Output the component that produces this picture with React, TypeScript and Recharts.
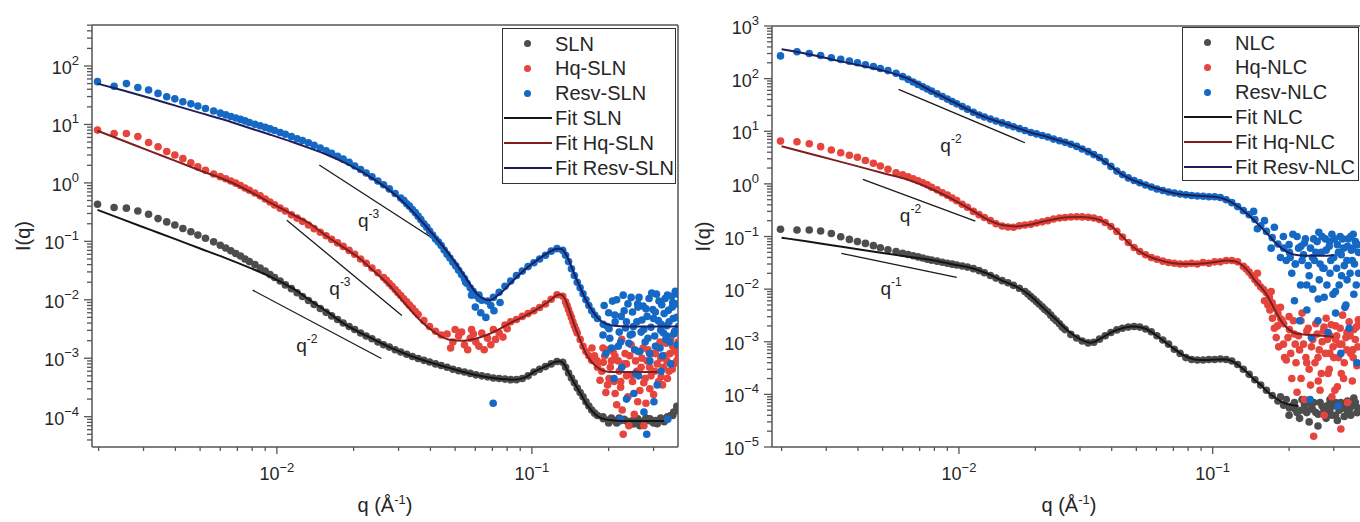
import React from "react";
import { ComposedChart, Scatter, Line, XAxis, YAxis, ReferenceLine, ReferenceDot } from "recharts";

const FONT = '"Liberation Sans", Arial, Helvetica, sans-serif';
const AXIS = "#555";
const INK = "#262626";
const GRAY = "#4d4d4d";
const RED = "#e5453d";
const BLUE = "#1569c4";
const FIT_BLACK = "#151515";
const FIT_RED = "#7d1f1f";
const FIT_NAVY = "#1d1f5c";

// q grid of the measured points (Å^-1), shared by both panels
const qData = [
  0.00198, 0.0023, 0.00257, 0.00285, 0.00314, 0.00342, 0.0037, 0.00398, 0.00428, 0.0046,
  0.0049, 0.00525, 0.00565, 0.006, 0.0063, 0.0066, 0.0069, 0.0072, 0.0075, 0.0078,
  0.0082, 0.0086, 0.009, 0.0094, 0.0098, 0.0103, 0.0108, 0.0114, 0.012, 0.0126,
  0.0133, 0.014, 0.0148, 0.0156, 0.0164, 0.0173, 0.0182, 0.0192, 0.0202, 0.0213,
  0.0224, 0.0236, 0.0249, 0.0262, 0.0276, 0.0291, 0.0306, 0.0323, 0.034, 0.0358,
  0.0377, 0.0397, 0.0419, 0.0441, 0.0465, 0.049, 0.0516, 0.0544, 0.0573, 0.0603,
  0.0636, 0.067, 0.0706, 0.0744, 0.0784, 0.0826, 0.087, 0.0917, 0.0966, 0.1018,
  0.1072, 0.113, 0.119, 0.1254, 0.1321, 0.1392, 0.1467, 0.1546, 0.1629, 0.1716,
  0.1808, 0.1905, 0.2007, 0.2115, 0.2228, 0.2348, 0.2474, 0.2606, 0.2746, 0.2893,
  0.3048, 0.3212, 0.3384, 0.3565, 0.3757,
];

// ---- left panel: SLN ----
const slnI = [
  0.43, 0.38, 0.37, 0.33, 0.29, 0.245, 0.215, 0.19, 0.166, 0.146,
  0.128, 0.113, 0.098, 0.086, 0.077, 0.069, 0.062, 0.056, 0.05, 0.045,
  0.04, 0.035, 0.031, 0.027, 0.024, 0.021, 0.018, 0.0155, 0.0132, 0.0114,
  0.0097, 0.0083, 0.0071, 0.0061, 0.0053, 0.0046, 0.004, 0.0035, 0.0031, 0.0027,
  0.0024, 0.00215, 0.0019, 0.0017, 0.00155, 0.0014, 0.00128, 0.00117, 0.00107, 0.00099,
  0.00092, 0.00086, 0.0008, 0.00075, 0.0007, 0.00065, 0.00061, 0.00058, 0.00055, 0.00052,
  0.0005, 0.00048, 0.00046, 0.00045, 0.00044, 0.00043, 0.00043, 0.00045, 0.0005, 0.00058,
  0.00065, 0.00072, 0.0008, 0.00088, 0.00085, 0.00056, 0.00038, 0.00026, 0.00018, 0.00013,
  0.000105, 0.000092, 0.000088, 0.000086, 0.000085, 0.000084, 0.000085, 0.000085, 0.000084, 0.000085,
  0.000086, 0.000088, 0.000092, 0.000105, 0.00013,
];
const hqSlnI = [
  8.0, 7.0, 7.0, 6.2, 4.9, 4.15, 3.45, 3.0, 2.6, 2.2,
  1.88, 1.64, 1.42, 1.28, 1.18, 1.08, 0.99, 0.9, 0.82, 0.75,
  0.67, 0.6, 0.53, 0.47, 0.42, 0.37, 0.33, 0.285, 0.25, 0.22,
  0.19, 0.165, 0.143, 0.125, 0.108, 0.094, 0.082, 0.07, 0.06, 0.05,
  0.042, 0.035, 0.029, 0.024, 0.019, 0.015, 0.0118, 0.0092, 0.0072, 0.0056,
  0.0044, 0.0035, 0.0029, 0.0025, 0.0026, 0.0019, 0.0024, 0.0017, 0.0022, 0.0019,
  0.0027, 0.0022, 0.0031, 0.0027, 0.0037, 0.0042, 0.0046, 0.0052, 0.0058, 0.0065,
  0.0074, 0.0085, 0.0102, 0.0122, 0.0115, 0.0068, 0.0036, 0.0021, 0.0013, 0.00092,
  0.0007, 0.00085, 0.00045, 0.0011, 0.00032, 0.0008, 0.00052, 0.0013, 0.00038, 0.0007,
  0.0012, 0.00048, 0.0009, 0.0016, 0.0011,
];
const resvSlnI = [
  54, 45, 50, 43, 38.8, 34, 29.8, 27.4, 24.5, 22.5,
  20.6, 18.8, 17, 15.6, 14.6, 13.7, 12.9, 12.2, 11.5, 10.8,
  10.1, 9.5, 8.9, 8.4, 7.9, 7.3, 6.8, 6.2, 5.7, 5.3,
  4.85, 4.4, 3.95, 3.55, 3.2, 2.85, 2.55, 2.25, 1.95, 1.7,
  1.48, 1.27, 1.08, 0.93, 0.79, 0.66, 0.55, 0.44, 0.35, 0.27,
  0.2, 0.15, 0.11, 0.085, 0.06, 0.044, 0.032, 0.023, 0.016, 0.012,
  0.0098, 0.0095, 0.011, 0.0135, 0.017, 0.021, 0.026, 0.031, 0.037, 0.043,
  0.05, 0.058, 0.068, 0.075, 0.07, 0.045, 0.026, 0.016, 0.01, 0.0065,
  0.0048, 0.0038, 0.0032, 0.0055, 0.0019, 0.0042, 0.0026, 0.0075, 0.0031, 0.0012,
  0.0062, 0.0038, 0.0024, 0.009, 0.0035,
];
// extra points: the steep stretches of the band and the scatter at high q
const slnExtra = [
  [0.1356, 0.0007], [0.1429, 0.00046], [0.1506, 0.00031], [0.1587, 0.00022], [0.1672, 0.000152], [0.1762, 0.000115],
  [0.19, 0.0001], [0.2, 0.000078], [0.205, 0.000095], [0.215, 0.000078], [0.22, 0.000095],
  [0.23, 0.00009], [0.24, 0.000078], [0.25, 0.000075], [0.26, 0.000092], [0.265, 0.00007],
  [0.27, 0.000078], [0.28, 0.000095], [0.29, 0.000092], [0.3, 0.000078], [0.31, 0.000076],
  [0.32, 0.000095], [0.33, 0.000082], [0.34, 0.0001], [0.35, 0.000105], [0.36, 0.00012], [0.37, 0.00015],
];
const hqSlnExtra = [
  [0.0269, 0.0215], [0.0283, 0.017], [0.0298, 0.0133], [0.0314, 0.0104], [0.0331, 0.0081], [0.0349, 0.0063],
  [0.048, 0.0015], [0.05, 0.0031], [0.053, 0.0028], [0.056, 0.0014], [0.058, 0.0031], [0.059, 0.0026],
  [0.062, 0.0016], [0.065, 0.0014], [0.069, 0.0017], [0.072, 0.0021], [0.077, 0.0023], [0.08, 0.0032],
  [0.1356, 0.0092], [0.1374, 0.008], [0.141, 0.0058], [0.1429, 0.005], [0.1448, 0.0042], [0.1487, 0.0031],
  [0.1506, 0.0027], [0.1587, 0.0016], [0.1672, 0.0011],
  [0.172, 0.0015], [0.176, 0.0011], [0.18, 0.0009], [0.185, 0.00042], [0.188, 0.0006], [0.19, 0.0015],
  [0.193, 0.0011], [0.195, 0.00026], [0.198, 0.00035], [0.2, 0.0014], [0.203, 0.0007], [0.205, 0.0009],
  [0.208, 0.0013], [0.21, 0.0004], [0.212, 0.00025], [0.215, 0.00016], [0.218, 0.0009], [0.22, 0.0006],
  [0.223, 0.0004], [0.225, 0.0021], [0.226, 0.00013], [0.228, 0.00005], [0.23, 0.0008], [0.232, 0.0012],
  [0.235, 0.0005], [0.238, 0.00022], [0.24, 0.00007], [0.242, 0.0011], [0.245, 0.0017], [0.248, 0.0004],
  [0.252, 0.00011], [0.255, 0.0009], [0.258, 0.0006], [0.26, 0.00018], [0.265, 0.00028], [0.268, 0.0007],
  [0.27, 0.001], [0.273, 0.0015], [0.275, 0.00007], [0.278, 0.00045], [0.28, 0.00017], [0.283, 0.0009],
  [0.285, 0.0014], [0.29, 0.0003], [0.293, 0.0005], [0.296, 0.0012], [0.3, 0.00024], [0.303, 0.0006],
  [0.308, 0.0016], [0.31, 0.0008], [0.314, 0.0004], [0.318, 0.0019], [0.32, 0.001], [0.325, 0.00035],
  [0.328, 0.0007], [0.332, 0.0011], [0.336, 0.0018], [0.34, 0.00045], [0.345, 0.0006], [0.348, 0.0012],
  [0.35, 0.0022], [0.355, 0.00065], [0.36, 0.0008], [0.362, 0.0015], [0.368, 0.0013], [0.37, 0.0009],
  [0.374, 0.0019],
];
const resvSlnExtra = [
  [0.0315, 0.5], [0.0331, 0.4], [0.0349, 0.31], [0.0367, 0.235], [0.0387, 0.175], [0.0408, 0.128],
  [0.043, 0.097], [0.0453, 0.071], [0.0477, 0.052], [0.0503, 0.038], [0.053, 0.027], [0.0558, 0.019],
  [0.0588, 0.014], [0.062, 0.0105],
  [0.055, 0.02], [0.058, 0.012], [0.06, 0.0075], [0.062, 0.012], [0.063, 0.006], [0.066, 0.005],
  [0.069, 0.008], [0.0705, 0.00017], [0.071, 0.0065], [0.075, 0.009],
  [0.1356, 0.058], [0.1429, 0.034], [0.1506, 0.02], [0.1587, 0.0127], [0.1672, 0.008], [0.1762, 0.0055],
  [0.19, 0.0025], [0.192, 0.008], [0.195, 0.0012], [0.198, 0.0035], [0.2, 0.006], [0.202, 0.0022],
  [0.205, 0.0015], [0.207, 0.0095], [0.21, 0.00045], [0.212, 0.0042], [0.215, 0.01], [0.218, 0.0016],
  [0.22, 0.0028], [0.222, 0.00009], [0.224, 0.0052], [0.225, 0.0007], [0.228, 0.012], [0.23, 0.0065],
  [0.233, 0.0033], [0.235, 0.0002], [0.238, 0.0085], [0.24, 0.0018], [0.243, 0.0025], [0.245, 0.011],
  [0.248, 0.0062], [0.25, 0.0035], [0.251, 0.00025], [0.253, 0.0014], [0.255, 0.00055], [0.258, 0.0042],
  [0.26, 0.0085], [0.262, 0.0005], [0.263, 0.011], [0.265, 0.0013], [0.268, 0.0028], [0.27, 0.0045],
  [0.273, 0.0078], [0.275, 0.00012], [0.278, 0.0019], [0.28, 0.007], [0.282, 0.00005], [0.283, 0.0052],
  [0.285, 0.0022], [0.288, 0.0105], [0.29, 0.0009], [0.293, 0.0034], [0.295, 0.013], [0.298, 0.0068],
  [0.3, 0.0048], [0.301, 0.00018], [0.303, 0.0024], [0.305, 0.0016], [0.308, 0.0125], [0.31, 0.00035],
  [0.313, 0.0044], [0.315, 0.0095], [0.318, 0.0015], [0.32, 0.003], [0.321, 0.0006], [0.323, 0.0082],
  [0.325, 0.0011], [0.328, 0.0027], [0.33, 0.0058], [0.333, 0.0105], [0.335, 0.0021], [0.338, 0.0036],
  [0.34, 0.012], [0.341, 0.00009], [0.343, 0.0066], [0.345, 0.0042], [0.348, 0.0019], [0.35, 0.0008],
  [0.353, 0.0115], [0.355, 0.0075], [0.358, 0.0048], [0.36, 0.0026], [0.363, 0.0029], [0.365, 0.014],
  [0.368, 0.0085], [0.37, 0.005], [0.372, 0.0017], [0.373, 0.0125],
];
const fitQLeft = [
  0.00198, 0.0025, 0.0032, 0.004, 0.005, 0.0063, 0.0078, 0.0095, 0.0115, 0.0135,
  0.0158, 0.0183, 0.021, 0.024, 0.0275, 0.0315, 0.036, 0.041, 0.047, 0.054,
  0.061, 0.068, 0.076, 0.085, 0.094, 0.103, 0.111, 0.118, 0.124, 0.129,
  0.134, 0.14, 0.147, 0.155, 0.163, 0.172, 0.182, 0.194, 0.21, 0.235,
  0.27, 0.31, 0.33, 0.374,
];
const slnFit = [
  0.345, 0.235, 0.157, 0.109, 0.0755, 0.0517, 0.0355, 0.0245, 0.0158, 0.0098,
  0.0062, 0.0039, 0.0028, 0.0021, 0.00156, 0.00122, 0.00098, 0.00082, 0.00069, 0.00058,
  0.00051, 0.00047, 0.00044, 0.00043, 0.00047, 0.0006, 0.0007, 0.00079, 0.00087, 0.00089,
  0.00078, 0.00054, 0.00037, 0.00025, 0.00017, 0.000125, 0.0001, 0.00009, 0.000086, 0.000084,
  0.000084, 0.000084, 0.000084, null,
];
const hqSlnFit = [
  7.8, 5.26, 3.46, 2.38, 1.63, 1.12, 0.72, 0.45, 0.29, 0.2,
  0.12, 0.078, 0.052, 0.031, 0.018, 0.009, 0.0047, 0.0029, 0.0021, 0.002,
  0.0022, 0.0026, 0.0033, 0.0043, 0.0053, 0.0066, 0.0081, 0.0098, 0.0117, 0.0125,
  0.0108, 0.0068, 0.0036, 0.002, 0.0012, 0.00085, 0.00068, 0.0006, 0.00058, 0.00058,
  0.00058, 0.00058, null, null,
];
const resvSlnFit = [
  50, 38, 28, 21, 15.8, 11.8, 8.7, 6.6, 5.0, 3.9,
  3.0, 2.25, 1.65, 1.15, 0.76, 0.46, 0.25, 0.13, 0.063, 0.027,
  0.0125, 0.0098, 0.0135, 0.022, 0.033, 0.045, 0.057, 0.067, 0.074, 0.075,
  0.067, 0.046, 0.027, 0.016, 0.0098, 0.0066, 0.0048, 0.0039, 0.0036, 0.0035,
  0.0035, 0.0035, 0.0035, 0.0035,
];
// guide slopes: [q1, I1, q2, I2], label position [q, I], exponent
const guidesLeft = [
  { seg: [0.01466, 2.02, 0.0409, 0.112], at: [0.0229, 0.216], exp: "-3" },
  { seg: [0.01094, 0.23, 0.0309, 0.0054], at: [0.01767, 0.0146], exp: "-3" },
  { seg: [0.00804, 0.0146, 0.0257, 0.00099], at: [0.0131, 0.00156], exp: "-2" },
];

// ---- right panel: NLC ----
const nlcI = [
  0.137, 0.133, 0.133, 0.127, 0.114, 0.099, 0.088, 0.08, 0.074, 0.067,
  0.061, 0.056, 0.052, 0.048, 0.0455, 0.043, 0.041, 0.039, 0.037, 0.0355,
  0.034, 0.0325, 0.031, 0.0298, 0.0288, 0.0275, 0.0262, 0.0245, 0.0225, 0.0205,
  0.0182, 0.0162, 0.0145, 0.0132, 0.0118, 0.0104, 0.009, 0.0072, 0.0058, 0.0046,
  0.0037, 0.0028, 0.0022, 0.0017, 0.00138, 0.00118, 0.00103, 0.00095, 0.00098, 0.00112,
  0.0013, 0.0015, 0.00168, 0.0018, 0.0019, 0.00195, 0.0019, 0.00175, 0.00155, 0.0013,
  0.00108, 0.0009, 0.00072, 0.0006, 0.0005, 0.00046, 0.00045, 0.00045, 0.00046, 0.00046,
  0.00047, 0.00046, 0.00043, 0.00037, 0.0003, 0.00024, 0.00019, 0.00015, 0.00012, 0.000095,
  0.000075, 0.000062, 0.000055, 0.000052, 0.00005, 0.000045, 0.000052, 0.000042, 0.000055, 0.000048,
  0.00004, 0.000058, 0.00005, 0.000062, 0.000055,
];
const hqNlcI = [
  6.5, 6.3, 5.8, 5.1, 4.4, 3.9, 3.5, 3.2, 2.78, 2.47,
  2.18, 1.9, 1.62, 1.48, 1.36, 1.25, 1.15, 1.05, 0.96, 0.86,
  0.77, 0.68, 0.61, 0.54, 0.48, 0.41, 0.36, 0.3, 0.26, 0.23,
  0.2, 0.175, 0.158, 0.152, 0.15, 0.16, 0.165, 0.17, 0.18, 0.19,
  0.2, 0.215, 0.225, 0.23, 0.235, 0.238, 0.236, 0.232, 0.225, 0.21,
  0.185, 0.155, 0.125, 0.098, 0.077, 0.062, 0.052, 0.045, 0.04, 0.037,
  0.034, 0.032, 0.031, 0.03, 0.03, 0.031, 0.03, 0.032, 0.031, 0.033,
  0.033, 0.035, 0.035, 0.033, 0.027, 0.021, 0.015, 0.011, 0.0085, 0.0055,
  0.0034, 0.0022, 0.0017, 0.0009, 0.0025, 0.0004, 0.0012, 0.00018, 0.0019, 0.0006,
  0.0011, 0.00025, 0.0015, 0.0007, 0.0021,
];
const resvNlcI = [
  270, 325, 300, 275, 250, 232, 215, 200, 184, 170,
  156, 142, 126, 109, 96.8, 86.5, 77.7, 70, 63.5, 57.8,
  51.2, 45.6, 40.8, 36.7, 33.2, 29.4, 26.3, 23, 20.4, 18.6,
  17, 15.7, 14.4, 13.2, 12.2, 11.2, 10.3, 9.46, 8.9, 8.3,
  7.8, 7.1, 6.6, 6.15, 5.65, 5.15, 4.6, 4.1, 3.6, 3.15,
  2.65, 2.15, 1.75, 1.5, 1.3, 1.16, 1.05, 0.95, 0.87, 0.8,
  0.75, 0.7, 0.67, 0.64, 0.62, 0.6, 0.59, 0.58, 0.57, 0.57,
  0.55, 0.5, 0.44, 0.37, 0.31, 0.26, 0.21, 0.16, 0.125, 0.095,
  0.072, 0.06, 0.05, 0.03, 0.065, 0.012, 0.04, 0.0065, 0.025, 0.08,
  0.009, 0.045, 0.015, 0.06, 0.02,
];
const nlcExtra = [
  [0.0187, 0.0081], [0.0197, 0.0065], [0.0207, 0.0052], [0.0218, 0.0041], [0.023, 0.0032], [0.0242, 0.0025],
  [0.0255, 0.0019],
  [0.185, 0.00009], [0.195, 0.00008], [0.2, 0.00004], [0.205, 0.00006], [0.21, 0.00007],
  [0.215, 0.000045], [0.22, 0.000035], [0.225, 0.00008], [0.23, 0.000065], [0.235, 0.00005],
  [0.24, 0.00003], [0.245, 0.000065], [0.25, 0.00007], [0.255, 0.000045], [0.26, 0.000025],
  [0.265, 0.00007], [0.27, 0.00006], [0.275, 0.00005], [0.28, 0.000035], [0.285, 0.000062],
  [0.29, 0.00008], [0.295, 0.00004], [0.3, 0.00006], [0.305, 0.00007], [0.31, 0.000032],
  [0.315, 0.00005], [0.32, 0.00007], [0.325, 0.000055], [0.33, 0.000038], [0.335, 0.00006],
  [0.34, 0.000075], [0.345, 0.00005], [0.35, 0.00004], [0.355, 0.00006], [0.36, 0.000085],
  [0.365, 0.00007], [0.37, 0.000045],
];
const hqNlcExtra = [
  [0.1356, 0.024], [0.1429, 0.018], [0.1506, 0.013], [0.1587, 0.0098], [0.1672, 0.007], [0.1762, 0.0044],
  [0.1856, 0.0027],
  [0.15, 0.02], [0.16, 0.006], [0.165, 0.005], [0.168, 0.004], [0.17, 0.009], [0.172, 0.0028],
  [0.175, 0.0018], [0.178, 0.0012], [0.18, 0.002], [0.182, 0.0008], [0.185, 0.0045], [0.188, 0.0025],
  [0.19, 0.0009], [0.192, 0.0005], [0.195, 0.00045], [0.198, 0.0012], [0.2, 0.003], [0.203, 0.0006],
  [0.205, 0.0002], [0.208, 0.0025], [0.21, 0.0014], [0.213, 0.0004], [0.215, 0.00011], [0.218, 0.0013],
  [0.22, 0.0007], [0.223, 0.0002], [0.225, 0.0035], [0.228, 0.0009], [0.23, 0.00008], [0.233, 0.0005],
  [0.235, 0.0016], [0.238, 0.0018], [0.24, 0.0003], [0.243, 0.00015], [0.245, 0.0008], [0.248, 0.0011],
  [0.25, 0.000016], [0.253, 0.0004], [0.255, 0.0022], [0.258, 0.0014], [0.26, 0.0005], [0.263, 0.0007],
  [0.265, 0.00012], [0.268, 0.00025], [0.27, 0.001], [0.273, 0.0016], [0.275, 0.00004], [0.278, 0.0006],
  [0.28, 0.0028], [0.283, 0.0011], [0.285, 0.00025], [0.288, 0.0003], [0.29, 0.0013], [0.293, 0.0021],
  [0.295, 0.00009], [0.298, 0.0008], [0.3, 0.0005], [0.303, 0.00012], [0.305, 0.002], [0.308, 0.0013],
  [0.31, 0.00014], [0.313, 0.0005], [0.315, 0.0009], [0.318, 0.0018], [0.32, 0.000022], [0.323, 0.0009],
  [0.325, 0.0032], [0.328, 0.0002], [0.33, 0.0004], [0.335, 0.0012], [0.338, 0.0007], [0.34, 0.00007],
  [0.345, 0.0024], [0.348, 0.0013], [0.35, 0.0006], [0.355, 0.00018], [0.358, 0.0005], [0.36, 0.0017],
  [0.365, 0.0011], [0.368, 0.0019], [0.37, 0.00035], [0.373, 0.0008], [0.375, 0.0026],
];
const resvNlcExtra = [
  [0.145, 0.3], [0.15, 0.14], [0.16, 0.2], [0.17, 0.06], [0.175, 0.15], [0.185, 0.04], [0.19, 0.1],
  [0.195, 0.035], [0.2, 0.07], [0.202, 0.04], [0.205, 0.02], [0.207, 0.11], [0.21, 0.006], [0.212, 0.03],
  [0.215, 0.1], [0.218, 0.06], [0.22, 0.0025], [0.222, 0.012], [0.225, 0.035], [0.228, 0.045],
  [0.23, 0.075], [0.232, 0.09], [0.235, 0.004], [0.238, 0.028], [0.24, 0.018], [0.242, 0.00008],
  [0.243, 0.06], [0.245, 0.0012], [0.248, 0.01], [0.25, 0.09], [0.252, 0.035], [0.255, 0.05],
  [0.258, 0.08], [0.26, 0.0025], [0.262, 0.12], [0.263, 0.015], [0.265, 0.03], [0.268, 0.05],
  [0.27, 0.1], [0.272, 0.025], [0.275, 0.007], [0.278, 0.09], [0.28, 0.055], [0.282, 0.012],
  [0.285, 0.0015], [0.288, 0.065], [0.29, 0.02], [0.292, 0.035], [0.295, 0.11], [0.298, 0.008],
  [0.3, 0.04], [0.302, 0.09], [0.305, 0.0035], [0.308, 0.025], [0.31, 0.07], [0.312, 0.00006],
  [0.313, 0.05], [0.315, 0.012], [0.318, 0.1], [0.32, 0.0006], [0.322, 0.018], [0.325, 0.09],
  [0.328, 0.06], [0.33, 0.028], [0.332, 0.0045], [0.335, 0.005], [0.338, 0.035], [0.34, 0.065],
  [0.342, 0.09], [0.345, 0.0018], [0.348, 0.02], [0.35, 0.1], [0.352, 0.055], [0.355, 0.035],
  [0.358, 0.11], [0.36, 0.008], [0.362, 0.03], [0.365, 0.08], [0.368, 0.012], [0.37, 0.0004],
  [0.372, 0.07], [0.375, 0.05],
];
const fitQRight = [
  0.002, 0.0025, 0.0032, 0.004, 0.005, 0.0063, 0.0078, 0.0095, 0.0112, 0.013,
  0.0148, 0.0168, 0.019, 0.0215, 0.024, 0.027, 0.03, 0.033, 0.0365, 0.04,
  0.044, 0.048, 0.053, 0.058, 0.064, 0.07, 0.077, 0.085, 0.094, 0.104,
  0.113, 0.122, 0.13, 0.138, 0.146, 0.155, 0.165, 0.175, 0.187, 0.2,
  0.218, 0.24, 0.27, 0.3,
];
const nlcFit = [
  0.095, 0.081, 0.0676, 0.0575, 0.0488, 0.0414, 0.0357, 0.0295, 0.0252, 0.0195,
  0.0145, 0.0112, 0.0077, 0.0044, 0.0027, 0.0016, 0.00112, 0.00096, 0.00118, 0.00152,
  0.0018, 0.00194, 0.00185, 0.00148, 0.00104, 0.00075, 0.00055, 0.00046, 0.00045, 0.00046,
  0.00046, 0.0004, 0.00032, 0.00025, 0.00019, 0.00015, 0.00011, 0.000088, 0.000072, 0.000064,
  0.00006, null, null, null,
];
const hqNlcFit = [
  5.2, 3.91, 2.86, 2.15, 1.61, 1.2, 0.8, 0.5, 0.32, 0.21,
  0.165, 0.155, 0.168, 0.192, 0.215, 0.232, 0.236, 0.228, 0.2, 0.155,
  0.1, 0.066, 0.048, 0.039, 0.034, 0.031, 0.03, 0.03, 0.031, 0.033,
  0.035, 0.034, 0.029, 0.022, 0.015, 0.011, 0.0072, 0.0042, 0.0024, 0.0017,
  0.0014, 0.00135, 0.0013, 0.00125,
];
const resvNlcFit = [
  360, 298, 229, 181, 143, 100, 58, 36, 24, 17.8,
  14.4, 11.8, 9.6, 8.2, 7.0, 5.9, 4.9, 3.9, 2.9, 2.1,
  1.5, 1.2, 1.0, 0.86, 0.75, 0.67, 0.62, 0.6, 0.58, 0.56,
  0.5, 0.41, 0.33, 0.26, 0.2, 0.15, 0.11, 0.08, 0.06, 0.049,
  0.044, 0.043, 0.043, 0.044,
];
const guidesRight = [
  { seg: [0.00578, 62.7, 0.0182, 6.05], at: [0.0093, 5.1], exp: "-2" },
  { seg: [0.00418, 1.22, 0.0116, 0.196], at: [0.00644, 0.238], exp: "-2" },
  { seg: [0.00344, 0.0478, 0.0098, 0.0167], at: [0.0054, 0.0096], exp: "-1" },
];

// axes
const xTicks = [
  0.002, 0.003, 0.004, 0.005, 0.006, 0.007, 0.008, 0.009, 0.01,
  0.02, 0.03, 0.04, 0.05, 0.06, 0.07, 0.08, 0.09, 0.1, 0.2, 0.3,
];
const MANTISSA = [1, 2, 3, 4, 5, 6, 7, 8, 9];
const decadesLeft = [-5, -4, -3, -2, -1, 0, 1, 2];
const decadesRight = [-5, -4, -3, -2, -1, 0, 1, 2, 3];
const xDomainLeft = [0.001884, 0.374];
const yDomainLeft = [3.03e-5, 503];
const xDomainRight = [0.001833, 0.402];
const yDomainRight = [1e-5, 1000];

type Pt = { q: number; I: number | null };
const zip = (qs: number[], vals: (number | null)[]): Pt[] => qs.map((q, i) => ({ q, I: vals[i] }));
const pairs = (list: number[][]): Pt[] => list.map(([q, I]) => ({ q, I }));
const ticksIn = (decades: number[], d: number[]) =>
  decades
    .flatMap((e) => MANTISSA.map((m) => m * Math.pow(10, e)))
    .filter((v) => v >= d[0] * 0.9999 && v <= d[1] * 1.0001);

const isDecade = (v: number) => Math.abs(Math.log10(v) - Math.round(Math.log10(v))) < 1e-6;
const expText = (v: number) => {
  const e = Math.round(Math.log10(v));
  return e < 0 ? "\u2212" + Math.abs(e) : String(e);
};

function XTick(props: any) {
  const { x, y, payload } = props;
  const major = isDecade(payload.value);
  return (
    <g>
      <line x1={x} x2={x} y1={y} y2={y + (major ? 7 : 4)} stroke={AXIS} strokeWidth={1.3} />
      {major && (
        <text x={x} y={y + 33} textAnchor="middle" fontFamily={FONT} fontSize={18} fill={INK}>
          10<tspan dy={-8} fontSize={13}>{expText(payload.value)}</tspan>
        </text>
      )}
    </g>
  );
}

function YTick(props: any) {
  const { x, y, payload } = props;
  const major = isDecade(payload.value);
  return (
    <g>
      <line x1={x - (major ? 8 : 5)} x2={x} y1={y} y2={y} stroke={AXIS} strokeWidth={1.3} />
      {major && (
        <text x={x - 13} y={y + 8} textAnchor="end" fontFamily={FONT} fontSize={18} fill={INK}>
          10<tspan dy={-9} fontSize={13}>{expText(payload.value)}</tspan>
        </text>
      )}
    </g>
  );
}

function PowerLabel({ cx, cy, exp }: { cx: number; cy: number; exp: string }) {
  return (
    <text x={cx} y={cy + 5} textAnchor="middle" fontFamily={FONT} fontSize={19} fill={INK}>
      q<tspan dy={-9} fontSize={12}>{exp}</tspan>
    </text>
  );
}

type Series = { name: string; color: string; data: Pt[] };
type Guide = { seg: number[]; at: number[]; exp: string };

function Panel(props: {
  left: number;
  width: number;
  axisWidth: number;
  top: number;
  right: number;
  xDomain: number[];
  yDomain: number[];
  yTicks: number[];
  dots: Series[];
  fits: Series[];
  guides: Guide[];
}) {
  const { left, width, axisWidth, top, right, xDomain, yDomain, yTicks, dots, fits, guides } = props;
  // fit curves must sit on top of the scatter clouds
  const lineProps: any = { zIndex: 700 };
  return (
    <div style={{ position: "absolute", left, top: 0 }}>
      <ComposedChart width={width} height={522} margin={{ top, right, bottom: 0, left: 0 }}>
        <XAxis
          type="number"
          dataKey="q"
          scale="log"
          domain={xDomain}
          allowDataOverflow
          ticks={xTicks.filter((t) => t >= xDomain[0] && t <= xDomain[1])}
          interval={0}
          tick={(p: any) => <XTick {...p} />}
          tickLine={false}
          tickSize={0}
          tickMargin={0}
          height={75}
          axisLine={{ stroke: AXIS, strokeWidth: 1.5 }}
          label={(p: any) => {
            const vb = p.viewBox;
            return (
              <text x={vb.x + vb.width / 2} y={vb.y + 65} textAnchor="middle" fontFamily={FONT} fontSize={20} fill={INK}>
                q (Å<tspan dy={-8} fontSize={13}>-1</tspan>
                <tspan dy={8}>)</tspan>
              </text>
            );
          }}
        />
        <YAxis
          type="number"
          dataKey="I"
          scale="log"
          domain={yDomain}
          allowDataOverflow
          ticks={yTicks}
          interval={0}
          tick={(p: any) => <YTick {...p} />}
          tickLine={false}
          tickSize={0}
          tickMargin={0}
          width={axisWidth}
          axisLine={{ stroke: AXIS, strokeWidth: 1.5 }}
          label={(p: any) => {
            const vb = p.viewBox;
            const cx = vb.x + vb.width - 69;
            const cy = vb.y + vb.height / 2;
            return (
              <text
                x={cx}
                y={cy}
                transform={`rotate(-90 ${cx} ${cy})`}
                textAnchor="middle"
                dominantBaseline="central"
                fontFamily={FONT}
                fontSize={20}
                fill={INK}
              >
                I(q)
              </text>
            );
          }}
        />
        <ReferenceLine y={yDomain[1]} stroke={AXIS} strokeWidth={1.5} ifOverflow="visible" />
        <ReferenceLine x={xDomain[1]} stroke={AXIS} strokeWidth={1.5} ifOverflow="visible" />
        {dots.map((s, i) => (
          <Scatter
            key={"d" + i}
            name={s.name}
            data={s.data}
            dataKey="I"
            fill={s.color}
            isAnimationActive={false}
            shape={(p: any) => <circle cx={p.cx} cy={p.cy} r={3.8} fill={s.color} />}
          />
        ))}
        {fits.map((s, i) => (
          <Line
            key={"f" + i}
            name={s.name}
            data={s.data}
            dataKey="I"
            type="monotone"
            stroke={s.color}
            strokeWidth={2}
            dot={false}
            activeDot={false}
            isAnimationActive={false}
            {...lineProps}
          />
        ))}
        {guides.map((g, i) => (
          <ReferenceLine
            key={"g" + i}
            segment={[
              { x: g.seg[0], y: g.seg[1] },
              { x: g.seg[2], y: g.seg[3] },
            ]}
            stroke="#1a1a1a"
            strokeWidth={1.3}
          />
        ))}
        {guides.map((g, i) => (
          <ReferenceDot
            key={"l" + i}
            x={g.at[0]}
            y={g.at[1]}
            r={0}
            shape={(p: any) => <PowerLabel cx={p.cx} cy={p.cy} exp={g.exp} />}
          />
        ))}
      </ComposedChart>
    </div>
  );
}

type LegendItem = { kind: "dot" | "line"; color: string; label: string };

function LegendBox({ left, top, width, height, items }: { left: number; top: number; width: number; height: number; items: LegendItem[] }) {
  const row = 24.8;
  return (
    <div
      style={{
        position: "absolute",
        left,
        top,
        width,
        height,
        boxSizing: "border-box",
        border: "1.5px solid #333",
        background: "#fff",
        fontFamily: FONT,
        fontSize: 20,
        color: INK,
      }}
    >
      {items.map((it, i) => (
        <div key={i} style={{ position: "absolute", left: 0, top: 2.5 + i * row, height: row, width: "100%" }}>
          {it.kind === "dot" ? (
            <span
              style={{
                position: "absolute",
                left: 21,
                top: row / 2 - 3.5,
                width: 7,
                height: 7,
                borderRadius: "50%",
                background: it.color,
              }}
            />
          ) : (
            <span style={{ position: "absolute", left: 1, top: row / 2 - 1, width: 48, height: 2, background: it.color }} />
          )}
          <span style={{ position: "absolute", left: 52, top: 0, lineHeight: row + "px", whiteSpace: "nowrap" }}>{it.label}</span>
        </div>
      ))}
    </div>
  );
}

export default function App() {
  const leftDots: Series[] = [
    { name: "SLN", color: GRAY, data: [...zip(qData, slnI), ...pairs(slnExtra)] },
    { name: "Hq-SLN", color: RED, data: [...zip(qData, hqSlnI), ...pairs(hqSlnExtra)] },
    { name: "Resv-SLN", color: BLUE, data: [...zip(qData, resvSlnI), ...pairs(resvSlnExtra)] },
  ];
  const leftFits: Series[] = [
    { name: "Fit SLN", color: FIT_BLACK, data: zip(fitQLeft, slnFit) },
    { name: "Fit Hq-SLN", color: FIT_RED, data: zip(fitQLeft, hqSlnFit) },
    { name: "Fit Resv-SLN", color: FIT_NAVY, data: zip(fitQLeft, resvSlnFit) },
  ];
  const rightDots: Series[] = [
    { name: "NLC", color: GRAY, data: [...zip(qData, nlcI), ...pairs(nlcExtra)] },
    { name: "Hq-NLC", color: RED, data: [...zip(qData, hqNlcI), ...pairs(hqNlcExtra)] },
    { name: "Resv-NLC", color: BLUE, data: [...zip(qData, resvNlcI), ...pairs(resvNlcExtra)] },
  ];
  const rightFits: Series[] = [
    { name: "Fit NLC", color: FIT_BLACK, data: zip(fitQRight, nlcFit) },
    { name: "Fit Hq-NLC", color: FIT_RED, data: zip(fitQRight, hqNlcFit) },
    { name: "Fit Resv-NLC", color: FIT_NAVY, data: zip(fitQRight, resvNlcFit) },
  ];
  const legendOf = (dots: Series[], fits: Series[]): LegendItem[] => [
    ...dots.map((s) => ({ kind: "dot" as const, color: s.color, label: s.name })),
    ...fits.map((s) => ({ kind: "line" as const, color: s.color, label: s.name })),
  ];

  return (
    <div style={{ position: "absolute", left: 0, top: 0, width: 1360, height: 522, overflow: "hidden", background: "#fff" }}>
      <Panel
        left={0}
        width={700}
        axisWidth={92}
        top={25}
        right={22}
        xDomain={xDomainLeft}
        yDomain={yDomainLeft}
        yTicks={ticksIn(decadesLeft, yDomainLeft)}
        dots={leftDots}
        fits={leftFits}
        guides={guidesLeft}
      />
      <Panel
        left={690}
        width={680}
        axisWidth={82}
        top={26}
        right={4}
        xDomain={xDomainRight}
        yDomain={yDomainRight}
        yTicks={ticksIn(decadesRight, yDomainRight)}
        dots={rightDots}
        fits={rightFits}
        guides={guidesRight}
      />
      <LegendBox left={502} top={28} width={174} height={156} items={legendOf(leftDots, leftFits)} />
      <LegendBox left={1182} top={27} width={177} height={154} items={legendOf(rightDots, rightFits)} />
    </div>
  );
}
